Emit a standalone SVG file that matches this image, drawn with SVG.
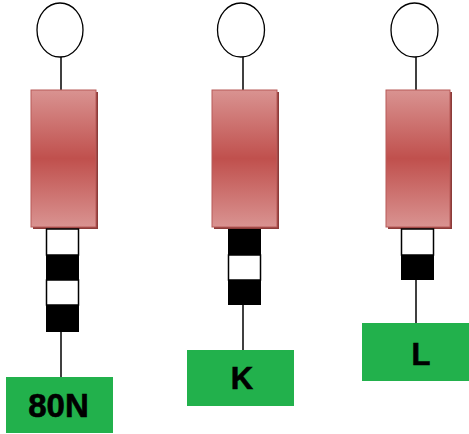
<svg xmlns="http://www.w3.org/2000/svg" width="469" height="434" viewBox="0 0 469 434">
<defs>
<linearGradient id="red" x1="0" y1="0" x2="0" y2="1">
<stop offset="0" stop-color="#d99391"/>
<stop offset="0.5" stop-color="#c0504d"/>
<stop offset="1" stop-color="#d99391"/>
</linearGradient>
</defs>
<style>
.bg{fill:#ffffff}
.head{fill:#ffffff;stroke:#000;stroke-width:1.3}
.stem{stroke:#000;stroke-width:1.5;fill:none}
.shadow{fill:#8c3b39}
.body{fill:url(#red);stroke:#b85a58;stroke-width:1}
.w{fill:#ffffff;stroke:#000;stroke-width:1.5}
.b{fill:#000}
.tag{fill:#22b14c}
.lbl{font-family:"Liberation Sans",Arial,sans-serif;font-weight:bold;fill:#000;stroke:#000;stroke-width:0.6;text-anchor:middle}
</style>
<rect class="bg" x="0" y="0" width="469" height="434"/>
<g id="connectors">
<line class="stem" x1="61" y1="57" x2="61" y2="90"/>
<line class="stem" x1="61" y1="332" x2="61" y2="377"/>
<line class="stem" x1="243" y1="57" x2="243" y2="90"/>
<line class="stem" x1="243" y1="305" x2="243" y2="350"/>
<line class="stem" x1="416" y1="57" x2="416" y2="90"/>
<line class="stem" x1="416" y1="280" x2="416" y2="323"/>
</g>
<g id="protein-80N">
<ellipse class="head" cx="60" cy="30" rx="23" ry="27"/>
<rect class="shadow" x="33" y="92" width="65" height="137"/>
<rect class="body" x="31" y="90" width="65" height="137"/>
<rect class="w" x="46.5" y="229" width="32" height="26"/>
<rect class="b" x="46" y="255" width="33" height="25"/>
<rect class="w" x="46.5" y="280" width="32" height="25"/>
<rect class="b" x="46" y="305" width="33" height="27"/>
<rect class="tag" x="6" y="377" width="107" height="56"/>
<text class="lbl" x="58.5" y="417" font-size="33">80N</text>
</g>
<g id="protein-K">
<ellipse class="head" cx="241" cy="30" rx="23.5" ry="27"/>
<rect class="shadow" x="214" y="92" width="65" height="137"/>
<rect class="body" x="212" y="90" width="65" height="137"/>
<rect class="b" x="228" y="229" width="33" height="26"/>
<rect class="w" x="228.5" y="255" width="32" height="25"/>
<rect class="b" x="228" y="280" width="33" height="25"/>
<rect class="tag" x="187" y="350" width="107" height="56"/>
<text class="lbl" x="242" y="389" font-size="31">K</text>
</g>
<g id="protein-L">
<ellipse class="head" cx="414.5" cy="30" rx="23.5" ry="27"/>
<rect class="shadow" x="388" y="92" width="64" height="137"/>
<rect class="body" x="386" y="90" width="64" height="137"/>
<rect class="w" x="401.5" y="229" width="32" height="26"/>
<rect class="b" x="401" y="255" width="33" height="25"/>
<rect class="tag" x="362" y="323" width="107" height="58"/>
<text class="lbl" x="421" y="365" font-size="31">L</text>
</g>
</svg>
